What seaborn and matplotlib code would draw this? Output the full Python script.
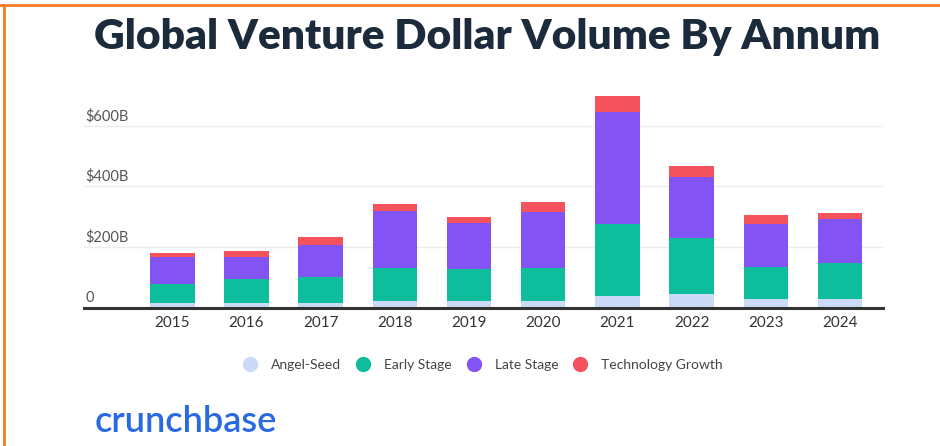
import matplotlib
matplotlib.use("Agg")
import matplotlib.pyplot as plt
from matplotlib.lines import Line2D
from matplotlib.transforms import blended_transform_factory
import numpy as np
import seaborn as sns

# Annual global venture funding by stage, in billions of US dollars
years = ["2015", "2016", "2017", "2018", "2019", "2020", "2021", "2022", "2023", "2024"]
angel_seed = [16, 16, 16, 22, 21, 22, 38, 44, 29, 29]
early_stage = [63, 78, 86, 109, 105, 109, 237, 184, 106, 119]
late_stage = [88, 74, 105, 188, 152, 183, 369, 201, 139, 145]
tech_growth = [13, 18, 27, 21, 20, 33, 53, 38, 30, 20]

series_names = ["Angel-Seed", "Early Stage", "Late Stage", "Technology Growth"]
series_colors = ["#cbdaf7", "#0dbd9b", "#8453f3", "#f4535d"]

y_ticks = [0, 200, 400, 600]
y_tick_labels = ["0", "$200B", "$400B", "$600B"]

sns.set_theme(style="white")
plt.rcParams["font.family"] = ["Lato", "DejaVu Sans"]

fig = plt.figure(figsize=(9.4, 4.46), dpi=100)
fig.patch.set_facecolor("white")
ax = fig.add_axes([84 / 940, (446 - 307.5) / 446, (883 - 84) / 940, 0.4896])

# Stack the series by drawing cumulative totals from the tallest down
stack = np.vstack([angel_seed, early_stage, late_stage, tech_growth])
cumulative = np.cumsum(stack, axis=0)
for level in range(len(series_names) - 1, -1, -1):
    sns.barplot(x=years, y=cumulative[level], color=series_colors[level],
                saturation=1, width=0.6, linewidth=0, ax=ax, zorder=3)

ax.set_xlim(-1.19, 9.58)
ax.set_ylim(0, 720)

# Light horizontal gridlines with labels sitting just above them
ax.set_yticks(y_ticks)
ax.set_yticklabels([])
ax.tick_params(axis="y", length=0)
for t in y_ticks[1:]:
    ax.axhline(t, color="#ececec", linewidth=1.0, zorder=1)
trans = blended_transform_factory(ax.transAxes, ax.transData)
for t, lab in zip(y_ticks, y_tick_labels):
    ax.text(0.002, t + 8, lab, transform=trans, ha="left", va="bottom",
            fontsize=10.5, color="#555555")

ax.set_xlabel("")
ax.set_ylabel("")
ax.tick_params(axis="x", length=0, pad=6, labelsize=11, labelcolor="#333333")
for side in ["top", "right", "left"]:
    ax.spines[side].set_visible(False)
ax.spines["bottom"].set_color("#333333")
ax.spines["bottom"].set_linewidth(2.2)
ax.spines["bottom"].set_zorder(5)

fig.text(0.5186, 0.918, "Global Venture Dollar Volume By Annum", ha="center", va="center",
         fontsize=30.5, fontweight="heavy", color="#1b2b3b")

handles = [Line2D([0], [0], marker="o", linestyle="", markersize=10,
                  markerfacecolor=c, markeredgecolor=c) for c in series_colors]
fig.legend(handles, series_names, loc="center", bbox_to_anchor=(0.51, 1 - 365 / 446),
           ncol=4, frameon=False, fontsize=10, handletextpad=0.5,
           columnspacing=0.6, labelcolor="#444444")

fig.text(95 / 940, 1 - 421 / 446, "crunchbase", ha="left", va="center",
         fontsize=26, color="#2a6ae0", fontweight="semibold")

# Orange frame along the top and left edges
fig.add_artist(Line2D([0, 1], [1 - 5 / 446, 1 - 5 / 446], color="#f47a22",
                      linewidth=2, transform=fig.transFigure))
fig.add_artist(Line2D([4 / 940, 4 / 940], [0, 1 - 5 / 446], color="#f47a22",
                      linewidth=2, transform=fig.transFigure))

fig.savefig("out.png", dpi=100, facecolor="white")
